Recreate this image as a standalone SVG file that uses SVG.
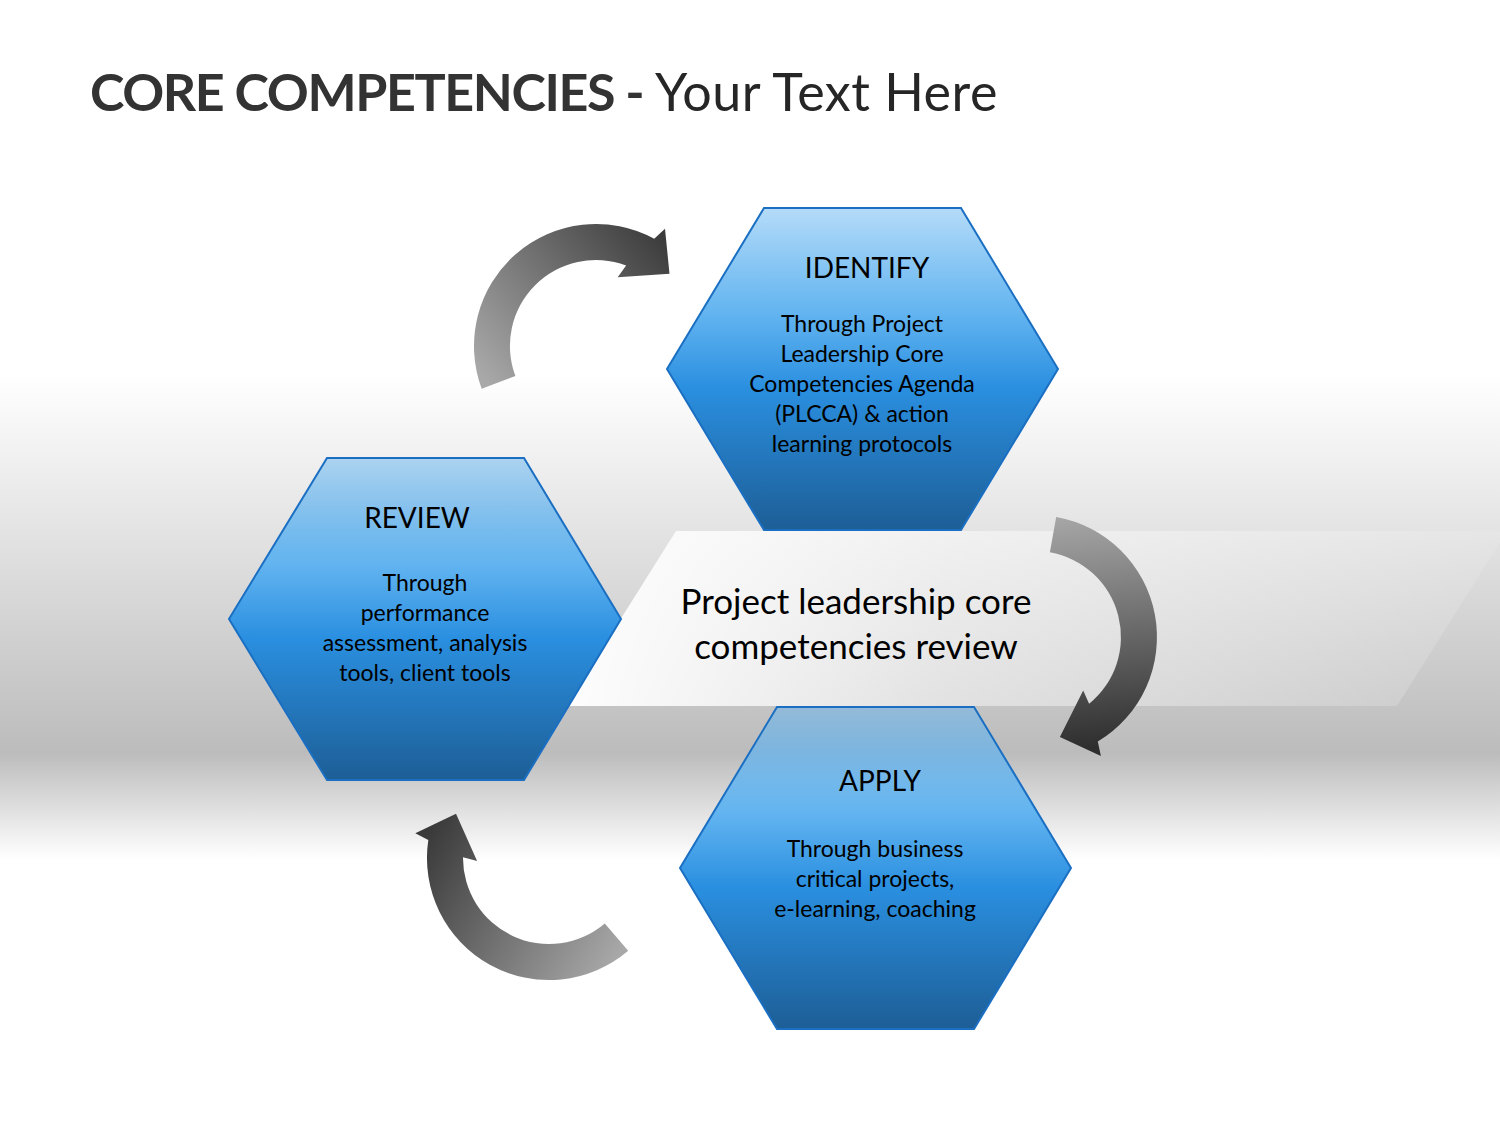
<svg xmlns="http://www.w3.org/2000/svg" width="1500" height="1125" viewBox="0 0 1500 1125">
<defs>
<style>
.hex{stroke:#1b6fc2;stroke-width:2;fill:url(#hexGrad)}
.ht{font-family:Lato,"Liberation Sans",sans-serif;font-size:28px;fill:#000;text-anchor:middle}
.bt{font-family:Lato,"Liberation Sans",sans-serif;font-size:23px;fill:#000;text-anchor:middle}
.ban{font-family:Lato,"Liberation Sans",sans-serif;font-size:35px;fill:#000;text-anchor:middle}
</style>
<linearGradient id="bgGrad" gradientUnits="userSpaceOnUse" x1="0" y1="0" x2="0" y2="1125">
<stop offset="0" stop-color="#ffffff"/>
<stop offset="0.333" stop-color="#ffffff"/>
<stop offset="0.669" stop-color="#bcbcbc"/>
<stop offset="0.764" stop-color="#ffffff"/>
<stop offset="1" stop-color="#ffffff"/>
</linearGradient>
<linearGradient id="hexGrad" x1="0" y1="0" x2="0" y2="1">
<stop offset="0" stop-color="#5ab0f0" stop-opacity="0.45"/>
<stop offset="0.33" stop-color="#62b4f0" stop-opacity="1"/>
<stop offset="0.56" stop-color="#2a8fe0"/>
<stop offset="1" stop-color="#1d5e96"/>
</linearGradient>
<linearGradient id="banGrad" gradientUnits="userSpaceOnUse" x1="566" y1="0" x2="1507" y2="0">
<stop offset="0" stop-color="#ffffff" stop-opacity="0.97"/>
<stop offset="0.4" stop-color="#ffffff" stop-opacity="0.5"/>
<stop offset="1" stop-color="#ffffff" stop-opacity="0.1"/>
</linearGradient>
<linearGradient id="a1Grad" gradientUnits="userSpaceOnUse" x1="490" y1="385" x2="665" y2="240">
<stop offset="0" stop-color="#a8a8a8"/>
<stop offset="1" stop-color="#3c3c3c"/>
</linearGradient>
<linearGradient id="a2Grad" gradientUnits="userSpaceOnUse" x1="1055" y1="520" x2="1075" y2="750">
<stop offset="0" stop-color="#a5a5a5"/>
<stop offset="1" stop-color="#2e2e2e"/>
</linearGradient>
<linearGradient id="a3Grad" gradientUnits="userSpaceOnUse" x1="625" y1="945" x2="430" y2="830">
<stop offset="0" stop-color="#a8a8a8"/>
<stop offset="1" stop-color="#3a3a3a"/>
</linearGradient>
</defs>

<rect x="0" y="0" width="1500" height="1125" fill="url(#bgGrad)"/>

<text x="90" y="111" font-family="Lato,'Liberation Sans',sans-serif" font-size="52" fill="#333333"><tspan font-weight="bold" letter-spacing="-1.4">CORE COMPETENCIES -</tspan><tspan fill="#262626" letter-spacing="0.5"> Your Text Here</tspan></text>

<g id="banner">
<polygon points="676,531 1507,531 1397,706 566,706" fill="url(#banGrad)"/>
<text class="ban" x="856" y="614">Project leadership core</text>
<text class="ban" x="856" y="659">competencies review</text>
</g>

<g id="connectors">
<path id="arrow-top" fill="url(#a1Grad)" d="M481.7,388.7 A122,122 0 0 1 654.2,238.8 L665,228.8 L669.5,273.8 L617.7,277.3 L626.1,265.4 A86,86 0 0 0 515.4,376.1 Z"/>
<path id="arrow-right" fill="url(#a2Grad)" d="M1056.2,516.9 A122,122 0 0 1 1097.8,741.6 L1100.9,755.9 L1059.9,736.9 L1083.2,690.5 L1089.1,703.8 A86,86 0 0 0 1049.9,552.3 Z"/>
<path id="arrow-bottom" fill="url(#a3Grad)" d="M628.2,950.8 A122,122 0 0 1 428.3,840 L415.3,833.2 L456,813.7 L477.1,861.1 L463,857.3 A86,86 0 0 0 604.8,923.4 Z"/>
</g>

<g id="identify">
<polygon class="hex" points="764,208 961,208 1058,369 961,530 764,530 667,369"/>
<text class="ht" x="867" y="278">IDENTIFY</text>
<text class="bt" x="862" y="332">Through Project</text>
<text class="bt" x="862" y="362">Leadership Core</text>
<text class="bt" x="862" y="392">Competencies Agenda</text>
<text class="bt" x="862" y="422">(PLCCA) &amp; action</text>
<text class="bt" x="862" y="452">learning protocols</text>
</g>

<g id="review">
<polygon class="hex" points="327,458 524,458 621,619 524,780 327,780 229,619"/>
<text class="ht" x="417" y="528">REVIEW</text>
<text class="bt" x="425" y="591">Through</text>
<text class="bt" x="425" y="621">performance</text>
<text class="bt" x="425" y="651">assessment, analysis</text>
<text class="bt" x="425" y="681">tools, client tools</text>
</g>

<g id="apply">
<polygon class="hex" points="777,707 974,707 1071,868 974,1029 777,1029 680,868"/>
<text class="ht" x="880" y="791">APPLY</text>
<text class="bt" x="875" y="857">Through business</text>
<text class="bt" x="875" y="887">critical projects,</text>
<text class="bt" x="875" y="917">e-learning, coaching</text>
</g>
</svg>
